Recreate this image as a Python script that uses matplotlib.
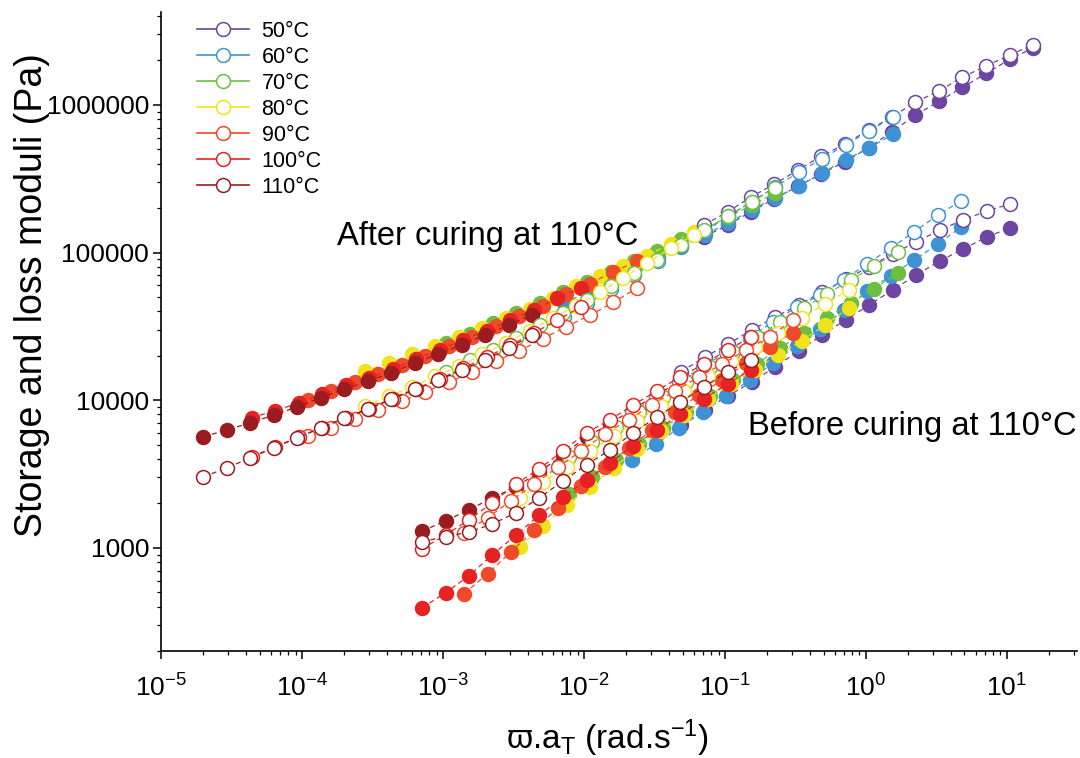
import matplotlib
matplotlib.use("Agg")
import matplotlib.pyplot as plt
from matplotlib.lines import Line2D
from matplotlib.ticker import LogLocator, FixedLocator, FixedFormatter, NullFormatter

plt.rcParams['font.family'] = ['Liberation Sans', 'DejaVu Sans']
plt.rcParams['mathtext.fontset'] = 'custom'
plt.rcParams['mathtext.rm'] = 'Liberation Sans'
plt.rcParams['mathtext.it'] = 'Liberation Sans'
plt.rcParams['mathtext.default'] = 'regular'

temps = ["50°C", "60°C", "70°C", "80°C", "90°C", "100°C", "110°C"]
colors = ["#6c46a0", "#3f93d4", "#6dbf40", "#efe41c", "#ef4a2a", "#e62222", "#9a1c20"]

# raw angular frequencies (rad/s) of each sweep
freq = [0.1, 0.147, 0.215, 0.316, 0.464, 0.681, 1.0, 1.47, 2.15, 3.16, 4.64, 6.81, 10.0, 14.7, 21.5]

# shift factors aT, 50..110 C
aT_after = [0.71, 0.072, 1.05e-2, 2.8e-3, 1.1e-3, 4.4e-4, 2.0e-4]
aT_before = [0.49, 0.22, 7.8e-2, 3.5e-2, 1.41e-2, 7.1e-3, 7.1e-3]

# after curing at 110C (filled = G', open = G'')
after_Gp_50 = [127900, 153100, 188800, 231200, 281200, 342000, 412100, 512900, 657700, 851100, 1057000, 1315000, 1633000, 2032000, 2432000]
after_Gpp_50 = [153800, 188400, 237700, 291100, 362200, 450800, 543300, 676100, 827900, 1047000, 1242000, 1545000, 1832000, 2178000, 2547000]
after_Gp_60 = [45700, 53700, 64600, 75900, 91200, 109600, 131800, 158500, 195000, 234400, 281800, 346700, 426600, 512900, 631000]
after_Gpp_60 = [36800, 45200, 56400, 70500, 88100, 110900, 139600, 175800, 221300, 278600, 349900, 433500, 537000, 666800, 826000]
after_Gp_70 = [24500, 28200, 33100, 38900, 45700, 53700, 63100, 74100, 87100, 102300, 123000, 144500, 173800, 208900, 251200]
after_Gpp_70 = [15500, 18600, 21900, 26300, 32400, 38900, 47900, 58900, 72400, 89100, 112200, 141300, 177800, 218800, 275400]
after_Gp_80 = [15800, 17800, 20400, 23400, 26900, 30900, 36300, 41700, 49000, 58900, 69200, 81300, 95500, 114800, 138000]
after_Gpp_80 = [9120, 10700, 12300, 14500, 17000, 20400, 24500, 29500, 36300, 43700, 53700, 67600, 85100, 107000, 132000]
after_Gp_90 = [10000, 11500, 13200, 15100, 17400, 20000, 23400, 26900, 31600, 37200, 43700, 52500, 61700, 74100, 87100]
after_Gpp_90 = [5700, 6530, 7480, 8550, 9860, 11400, 13200, 15600, 18400, 21500, 26100, 31500, 37600, 45900, 57500]
after_Gp_100 = [7590, 8510, 9550, 10960, 12590, 14130, 16220, 19050, 21880, 25700, 29500, 34700, 40700, 49000, 57500]
after_Gpp_100 = [4150, 4830, 5650, 6530, 7550, 8750, 10200, 11900, 13900, 16500, 19600, 23500, 28500, 34800, 42700]
after_Gp_110 = [5650, 6300, 7020, 7940, 9020, 10400, 11900, 13500, 15300, 17900, 20600, 23700, 27700, 32400, 37800]
after_Gpp_110 = [3030, 3480, 4070, 4750, 5560, 6490, 7590, 8730, 10200, 11900, 13700, 16000, 18800, 22600, 27700]

# before curing
before_Gp_50 = [6810, 8590, 10700, 13300, 16800, 21600, 27700, 35000, 44200, 55800, 70500, 87700, 105700, 127600, 146900]
before_Gpp_50 = [15600, 19600, 24000, 29900, 36600, 44200, 54100, 66200, 80000, 98000, 118000, 142200, 166300, 191400, 213300]
before_Gp_60 = [3940, 5060, 6490, 8340, 10700, 13700, 17900, 23300, 30400, 40800, 55000, 69500, 89100, 114300, 148900]
before_Gpp_60 = [8340, 10500, 13300, 16800, 21200, 26800, 33900, 42800, 51600, 65300, 83800, 107400, 138000, 179900, 223400]
before_Gp_70 = [2320, 3030, 3940, 5060, 6490, 8340, 10700, 13700, 17600, 22600, 28600, 36100, 45600, 56800, 72800]
before_Gpp_70 = [4130, 5220, 6590, 8340, 10500, 13300, 16800, 21200, 26800, 33900, 42200, 52500, 65300, 81100, 100900]
before_Gp_80 = [1020, 1410, 1950, 2590, 3480, 4680, 6190, 7950, 10200, 12900, 16000, 20300, 25200, 32400, 42200]
before_Gpp_80 = [2180, 2800, 3530, 4540, 5730, 7240, 9140, 11600, 14600, 18500, 23000, 28600, 36100, 44900, 55800]
before_Gp_90 = [489, 667, 940, 1320, 1870, 2630, 3530, 4750, 6300, 8340, 10900, 13700, 17900, 23000, 28600]
before_Gpp_90 = [1260, 1600, 2080, 2710, 3530, 4540, 5920, 7360, 9290, 11600, 14400, 17600, 21900, 26800, 35000]
before_Gp_100 = [393, 496, 646, 897, 1220, 1670, 2210, 2880, 3760, 4910, 6300, 8070, 10200, 12900, 16000]
before_Gpp_100 = [985, 1220, 1550, 2020, 2710, 3430, 4540, 6010, 7360, 9290, 11600, 14400, 17600, 21900, 26800]
before_Gp_110 = [1300, 1520, 1810, 2180, 2590, 3270, 4270, 5650, 6920, 8730, 10900, 13500, 16600, 20600, 25200]
before_Gpp_110 = [1100, 1190, 1280, 1450, 1730, 2180, 2840, 3650, 4610, 6010, 7710, 9730, 12300, 15600, 18700]

after_Gp = [after_Gp_50, after_Gp_60, after_Gp_70, after_Gp_80, after_Gp_90, after_Gp_100, after_Gp_110]
after_Gpp = [after_Gpp_50, after_Gpp_60, after_Gpp_70, after_Gpp_80, after_Gpp_90, after_Gpp_100, after_Gpp_110]
before_Gp = [before_Gp_50, before_Gp_60, before_Gp_70, before_Gp_80, before_Gp_90, before_Gp_100, before_Gp_110]
before_Gpp = [before_Gpp_50, before_Gpp_60, before_Gpp_70, before_Gpp_80, before_Gpp_90, before_Gpp_100, before_Gpp_110]

ytick_vals = [1000, 10000, 100000, 1000000]
ytick_labels = ["1000", "10000", "100000", "1000000"]

fig = plt.figure(figsize=(10.8, 7.58), dpi=100)
ax = fig.add_axes([161 / 1080, 1 - 651 / 758, 916 / 1080, 639 / 758])

MS = 10
dash = (0, (4, 3))


def draw(x, y, c, filled, z):
    ax.plot(x, y, ls=dash, lw=0.9, color=c, marker='o', ms=MS,
            mfc=c if filled else 'white', mec=c, mew=1.1, zorder=z)


# filled first, then open symbols on top
for i, c in enumerate(colors):
    draw([f * aT_after[i] for f in freq], after_Gp[i], c, True, 2)
    draw([f * aT_before[i] for f in freq], before_Gp[i], c, True, 2)
for i, c in enumerate(colors):
    draw([f * aT_after[i] for f in freq], after_Gpp[i], c, False, 3)
    draw([f * aT_before[i] for f in freq], before_Gpp[i], c, False, 3)

ax.set_xscale('log')
ax.set_yscale('log')
ax.set_xlim(1e-5, 31.4)
ax.set_ylim(200, 4.26e6)

ax.xaxis.set_major_locator(LogLocator(base=10, numticks=20))
ax.xaxis.set_minor_locator(LogLocator(base=10, subs=range(2, 10), numticks=20))
ax.xaxis.set_minor_formatter(NullFormatter())
ax.yaxis.set_major_locator(FixedLocator(ytick_vals))
ax.yaxis.set_major_formatter(FixedFormatter(ytick_labels))
ax.yaxis.set_minor_locator(LogLocator(base=10, subs=range(2, 10), numticks=20))
ax.yaxis.set_minor_formatter(NullFormatter())

for s in ['top', 'right']:
    ax.spines[s].set_visible(False)
for s in ['left', 'bottom']:
    ax.spines[s].set_linewidth(1.2)
ax.tick_params(which='major', direction='out', length=5.5, width=1.1, labelsize=19, pad=3)
ax.tick_params(which='minor', direction='out', length=3, width=0.9)
ax.tick_params(axis='x', which='major', pad=11)

ax.set_ylabel("Storage and loss moduli (Pa)", fontsize=27)
ax.yaxis.set_label_coords(-0.121, 0.557)
ax.set_xlabel(r"ϖ.a$_{\mathregular{T}}$ (rad.s$^{\mathregular{-1}}$)", fontsize=24)
ax.xaxis.set_label_coords(0.487, -0.104)

ax.text(1.77e-4, 1.28e5, "After curing at 110°C", fontsize=23.5, ha='left', va='center')
ax.text(31, 6.6e3, "Before curing at 110°C", fontsize=23.5, ha='right', va='center')

handles = [Line2D([], [], color=c, lw=1.2, marker='o', ms=MS, mfc='white', mec=c, mew=1.1)
           for c in colors]
fig.legend(handles, temps, loc='upper left', bbox_to_anchor=(197 / 1080, 1 - 21 / 758),
           frameon=False, fontsize=15.5, handlelength=2.4, handletextpad=0.6,
           labelspacing=0.23, borderpad=0, borderaxespad=0)

fig.savefig("out.png", dpi=100)
